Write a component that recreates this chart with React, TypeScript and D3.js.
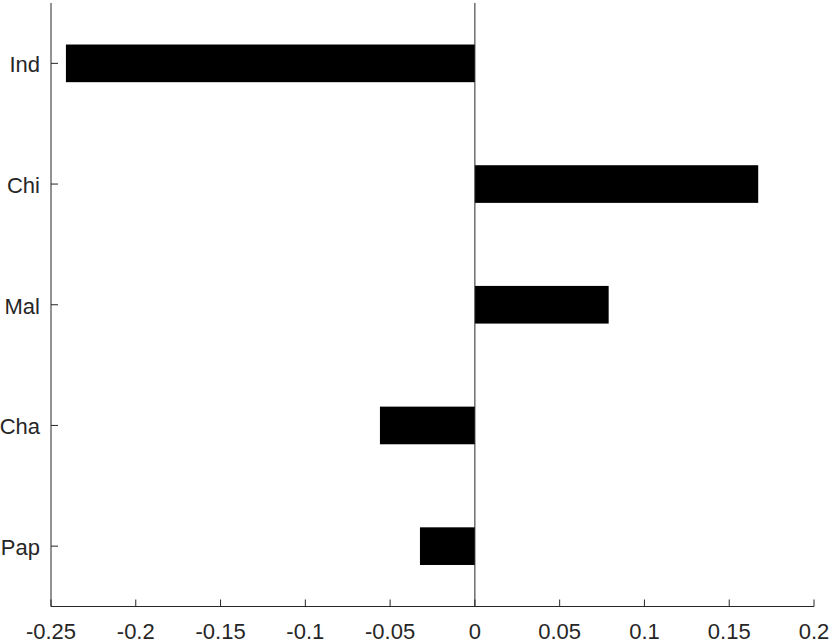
import React from "react";
import * as d3 from "d3";

const categories = ["Ind", "Chi", "Mal", "Cha", "Pap"];
const values = [-0.2412, 0.1671, 0.0789, -0.056, -0.0324];
const xTicks = [-0.25, -0.2, -0.15, -0.1, -0.05, 0, 0.05, 0.1, 0.15, 0.2];
const xTickLabels = ["-0.25", "-0.2", "-0.15", "-0.1", "-0.05", "0", "0.05", "0.1", "0.15", "0.2"];

const W = 830;
const H = 643;
const left = 51;
const right = 814;
const top = 3;
const bottom = 606.5;
const axisColor = "#262626";
const font = "'Liberation Sans', Arial, Helvetica, sans-serif";

export default function App() {
  const x = d3.scaleLinear().domain([-0.25, 0.2]).range([left, right]);
  const y = d3.scalePoint<string>().domain(categories).range([top, bottom]).padding(0.5);
  const barH = y.step() * 0.312;

  return (
    <svg
      width={W}
      height={H}
      style={{ position: "absolute", left: 0, top: 0, background: "#fff" }}
      fontFamily={font}
    >
      <rect x={0} y={0} width={W} height={H} fill="#fff" />
      {categories.map((c, i) => {
        const v = values[i];
        const x0 = x(Math.min(0, v));
        const x1 = x(Math.max(0, v));
        return (
          <rect key={c} x={x0} y={(y(c) as number) - barH / 2} width={x1 - x0} height={barH} fill="#000" />
        );
      })}
      {/* baseline at zero */}
      <line x1={x(0)} x2={x(0)} y1={top} y2={bottom} stroke={axisColor} strokeWidth={1} />
      {/* left axis */}
      <line x1={left} x2={left} y1={top} y2={bottom} stroke={axisColor} strokeWidth={1} />
      {/* bottom axis */}
      <line x1={left} x2={right} y1={bottom} y2={bottom} stroke={axisColor} strokeWidth={1} />
      {xTicks.map((t, i) => (
        <g key={t}>
          <line x1={x(t)} x2={x(t)} y1={bottom} y2={bottom - 7} stroke={axisColor} strokeWidth={1} />
          <text x={x(t)} y={639} textAnchor="middle" fontSize={22} fill={axisColor}>
            {xTickLabels[i]}
          </text>
        </g>
      ))}
      {categories.map((c) => (
        <g key={c}>
          <line x1={left} x2={left + 7} y1={y(c)} y2={y(c)} stroke={axisColor} strokeWidth={1} />
          <text x={40} y={(y(c) as number) + 9} textAnchor="end" fontSize={22} fill={axisColor}>
            {c}
          </text>
        </g>
      ))}
    </svg>
  );
}
